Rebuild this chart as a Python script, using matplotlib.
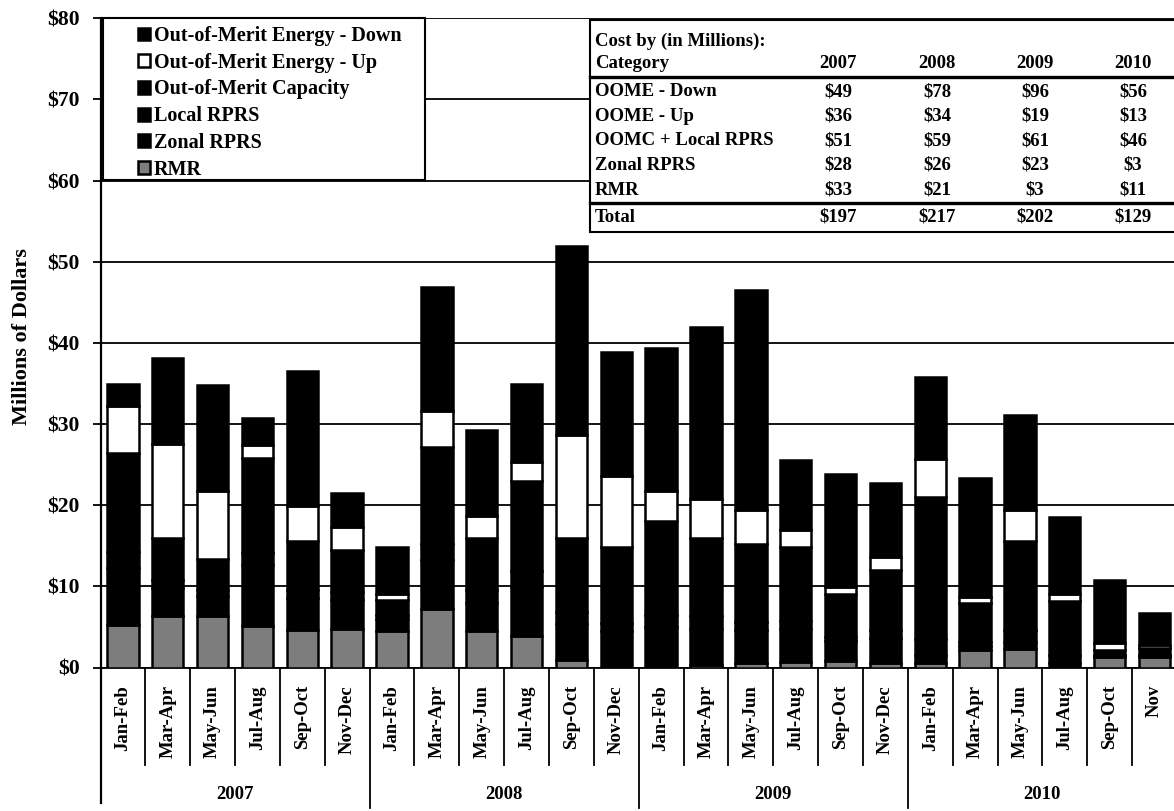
import numpy as np
import matplotlib
matplotlib.use("Agg")
import matplotlib.pyplot as plt
import matplotlib.transforms as mtransforms
from matplotlib.patches import Rectangle
from matplotlib.lines import Line2D

plt.rcParams["font.family"] = ["Liberation Serif", "DejaVu Serif"]
plt.rcParams["font.weight"] = "bold"
plt.rcParams["axes.labelweight"] = "bold"

# two-month periods, Jan 2007 - Nov 2010
periods = ["Jan-Feb", "Mar-Apr", "May-Jun", "Jul-Aug", "Sep-Oct", "Nov-Dec"] * 3 + \
          ["Jan-Feb", "Mar-Apr", "May-Jun", "Jul-Aug", "Sep-Oct", "Nov"]
years = ["2007", "2008", "2009", "2010"]

# monthly-pair costs, millions of dollars (stacked bottom -> top)
rmr = [5.2, 6.3, 6.3, 5.1, 4.6, 4.8,
       4.5, 7.2, 4.5, 3.9, 0.9, 0.0,
       0.0, 0.3, 0.6, 0.7, 0.8, 0.6,
       0.5, 2.1, 2.3, 0.0, 1.3, 1.3]
zonal_rprs = [7.0, 3.5, 2.5, 7.5, 4.0, 3.5,
              1.5, 6.0, 3.5, 6.0, 4.5, 4.5,
              5.0, 4.5, 4.0, 4.0, 2.5, 3.0,
              1.0, 0.5, 0.8, 0.5, 0.1, 0.1]
local_rprs = [2.0, 1.0, 0.8, 1.5, 1.0, 1.0,
              0.5, 2.0, 1.5, 2.0, 1.5, 1.0,
              1.5, 1.5, 1.0, 1.0, 0.5, 1.0,
              2.0, 0.5, 1.5, 1.0, 0.1, 0.2]
oom_capacity = [12.2, 5.1, 3.8, 11.7, 6.0, 5.2,
                1.8, 12.0, 6.5, 11.1, 9.0, 9.3,
                11.5, 9.7, 9.6, 9.1, 5.3, 7.4,
                17.5, 4.8, 11.0, 6.7, 0.6, 0.8]
oome_up = [5.8, 11.7, 8.3, 1.6, 4.3, 2.8,
           0.8, 4.4, 2.7, 2.3, 12.8, 8.8,
           3.8, 4.8, 4.2, 2.2, 0.8, 1.6,
           4.7, 0.8, 3.8, 0.9, 0.9, 0.4]
oome_down = [2.7, 10.6, 13.1, 3.4, 16.6, 4.2,
             5.7, 15.3, 10.6, 9.6, 23.3, 15.3,
             17.6, 21.2, 27.1, 8.6, 14.0, 9.1,
             10.1, 14.6, 11.7, 9.4, 7.8, 3.9]

# annual summary table
table_categories = ["OOME - Down", "OOME - Up", "OOMC + Local RPRS", "Zonal RPRS", "RMR"]
cost_oome_down = [49, 78, 96, 56]
cost_oome_up = [36, 34, 19, 13]
cost_oomc_local = [51, 59, 61, 46]
cost_zonal = [28, 26, 23, 3]
cost_rmr = [33, 21, 3, 11]
cost_total = [197, 217, 202, 129]

W, H = 1174, 811


def fx(x):
    return x / W


def fy(y):
    return 1 - y / H


fig = plt.figure(figsize=(W / 100, H / 100), dpi=100)
ax = fig.add_axes([fx(100.5), fy(667.5), 1 - fx(100.5), fy(18.3) - fy(667.5)])

x = np.arange(len(periods))
series = [
    (rmr, "RMR", "#7d7d7d"),
    (zonal_rprs, "Zonal RPRS", "black"),
    (local_rprs, "Local RPRS", "black"),
    (oom_capacity, "Out-of-Merit Capacity", "black"),
    (oome_up, "Out-of-Merit Energy - Up", "white"),
    (oome_down, "Out-of-Merit Energy - Down", "black"),
]
bottom = np.zeros(len(periods))
handles = []
for vals, name, color in series:
    vals = np.asarray(vals, dtype=float)
    bars = ax.bar(x, vals, 0.70, bottom=bottom, color=color, edgecolor="black",
                  linewidth=1.8, label=name, zorder=3)
    handles.append(bars)
    bottom += vals

ax.set_xlim(-0.5, -0.5 + (W - 100.5) / 44.85)
ax.set_ylim(0, 80)
ax.set_yticks(np.arange(0, 81, 10))
ax.set_yticklabels([f"${v}" for v in range(0, 81, 10)], fontsize=15.5)
ax.yaxis.grid(True, color="black", linewidth=1.3, zorder=0)
ax.set_axisbelow(True)
ax.tick_params(axis="y", length=6, width=1.3, pad=9)

ax.set_xticks(x)
ax.set_xticklabels(periods, rotation=90, fontsize=13.5)
ax.tick_params(axis="x", length=0, pad=12.6)

for side in ["top", "right"]:
    ax.spines[side].set_visible(False)
ax.spines["left"].set_linewidth(1.6)
ax.spines["bottom"].set_linewidth(1.3)

ax.set_ylabel("Millions of Dollars", fontsize=16)
ax.yaxis.set_label_coords((32 - 100.5) / (W - 100.5), 0.509)

# category / year dividers below the axis
blend = mtransforms.blended_transform_factory(ax.transData, ax.transAxes)
for i in range(1, len(periods)):
    depth = -0.216 if i % 6 == 0 else -0.150
    ax.plot([i - 0.5, i - 0.5], [0, depth], color="black", lw=1.3,
            transform=blend, clip_on=False)
ax.plot([-0.5, -0.5], [0, -0.209], color="black", lw=1.6,
        transform=blend, clip_on=False)
for k, yr in enumerate(years):
    ax.text(k * 6 + 2.5, -0.196, yr, transform=blend, ha="center", va="center",
            fontsize=13.5)

# legend box
fig.add_artist(Rectangle((fx(103), fy(180)), fx(425) - fx(103), fy(18) - fy(180),
                         transform=fig.transFigure, facecolor="white",
                         edgecolor="black", linewidth=1.5, zorder=2))
fig.legend(handles[::-1], [s[1] for s in series][::-1], loc="upper left",
           bbox_to_anchor=(fx(138), fy(26)), frameon=False, fontsize=14.5,
           handlelength=0.6, handleheight=0.6, handletextpad=0.2,
           labelspacing=0.335, borderpad=0, borderaxespad=0).set_zorder(5)

# annual cost table
fig.add_artist(Rectangle((fx(590), fy(232)), fx(1180) - fx(590), fy(20) - fy(232),
                         transform=fig.transFigure, facecolor="white",
                         edgecolor="black", linewidth=1.5, zorder=2))
for yline in (77, 203):
    fig.add_artist(Line2D([fx(590), fx(1180)], [fy(yline), fy(yline)],
                          transform=fig.transFigure, color="black", lw=2.4, zorder=3))

col_x = [838, 937, 1035, 1133]
tkw = dict(fontsize=13.5, va="center", zorder=4)
fig.text(fx(595), fy(41.7), "Cost by (in Millions):", ha="left", **tkw)
fig.text(fx(595), fy(64), "Category", ha="left", **tkw)
for cx, yr in zip(col_x, years):
    fig.text(fx(cx), fy(64), yr, ha="center", **tkw)

row_values = [cost_oome_down, cost_oome_up, cost_oomc_local, cost_zonal, cost_rmr]
row_y = [91.7, 116.2, 140.7, 165.2, 190.2]
for ry, name, vals in zip(row_y, table_categories, row_values):
    fig.text(fx(595), fy(ry), name, ha="left", **tkw)
    for cx, v in zip(col_x, vals):
        fig.text(fx(cx), fy(ry), f"${v}", ha="center", **tkw)
fig.text(fx(595), fy(217), "Total", ha="left", **tkw)
for cx, v in zip(col_x, cost_total):
    fig.text(fx(cx), fy(217), f"${v}", ha="center", **tkw)

fig.savefig("out.png", dpi=100)
